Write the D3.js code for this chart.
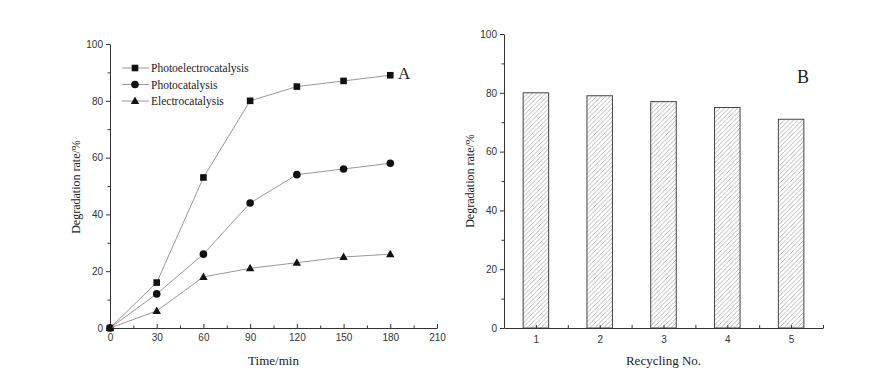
<!DOCTYPE html>
<html>
<head>
<meta charset="utf-8">
<script src="https://cdn.jsdelivr.net/npm/d3@7"></script>
<style>
  body { margin: 0; background: #fff; }
  svg { display: block; }
  .tick text { font-family: "Liberation Sans", Arial, sans-serif; font-size: 10px; fill: #333; }
  .tick line { stroke: #333; }
</style>
</head>
<body>
<div id="chart"></div>
<script>
// Panel A: degradation over time
const times = [0, 30, 60, 90, 120, 150, 180];
const photoelectro = [0, 16, 53, 80, 85, 87, 89];
const photo = [0, 12, 26, 44, 54, 56, 58];
const electro = [0, 6, 18, 21, 23, 25, 26];
const seriesNames = ["Photoelectrocatalysis", "Photocatalysis", "Electrocatalysis"];
const seriesMarks = ["square", "circle", "triangle"];

// Panel B: recycling runs
const cycles = [1, 2, 3, 4, 5];
const cycleRates = [80, 79, 77, 75, 71];

const serif = "'Liberation Serif', 'Times New Roman', Times, serif";

const svg = d3.select("#chart")
    .append("svg")
    .attr("width", 891)
    .attr("height", 379);

// hatch for the bars
svg.append("defs")
    .append("pattern")
    .attr("id", "hatch")
    .attr("patternUnits", "userSpaceOnUse")
    .attr("width", 4.5)
    .attr("height", 4.5)
    .append("path")
    .attr("d", "M-1,1 l2,-2 M0,4.5 l4.5,-4.5 M3.5,5.5 l2,-2")
    .attr("stroke", "#999")
    .attr("stroke-width", 0.7);

function drawMarker(g, type, x, y) {
    if (type === "square") {
        g.append("rect").attr("x", x - 3.3).attr("y", y - 3.3)
            .attr("width", 6.6).attr("height", 6.6).attr("fill", "#111");
    } else if (type === "circle") {
        g.append("circle").attr("cx", x).attr("cy", y).attr("r", 3.8).attr("fill", "#111");
    } else {
        g.append("path")
            .attr("d", `M${x},${y - 4.5} L${x + 4.2},${y + 3} L${x - 4.2},${y + 3} Z`)
            .attr("fill", "#111");
    }
}

function title(g, txt, x, y, size) {
    return g.append("text")
        .attr("x", x).attr("y", y)
        .attr("font-family", serif)
        .attr("font-size", size)
        .attr("fill", "#222")
        .text(txt);
}

// ---------- Panel A ----------
const xA = d3.scaleLinear().domain([0, 210]).range([110, 437]);
const yA = d3.scaleLinear().domain([0, 100]).range([328, 44]);

const gA = svg.append("g");

// minor ticks
gA.append("g").attr("transform", `translate(0,${yA(0)})`)
    .call(d3.axisBottom(xA).tickValues(d3.range(15, 210, 30)).tickFormat("").tickSizeInner(-2.5).tickSizeOuter(0))
    .call(g => g.select(".domain").remove());
gA.append("g").attr("transform", `translate(${xA(0)},0)`)
    .call(d3.axisLeft(yA).tickValues(d3.range(10, 100, 20)).tickFormat("").tickSizeInner(2.5).tickSizeOuter(0))
    .call(g => g.select(".domain").remove());

// major ticks
gA.append("g").attr("transform", `translate(0,${yA(0)})`)
    .call(d3.axisBottom(xA).tickValues(d3.range(0, 211, 30)).tickSizeInner(-4).tickSizeOuter(0).tickPadding(6))
    .call(g => g.select(".domain").attr("stroke", "#333"));
gA.append("g").attr("transform", `translate(${xA(0)},0)`)
    .call(d3.axisLeft(yA).tickValues(d3.range(0, 101, 20)).tickSizeInner(4).tickSizeOuter(0).tickPadding(3))
    .call(g => g.select(".domain").attr("stroke", "#333"));

const seriesA = [photoelectro, photo, electro];
const lineA = d3.line().x((d, i) => xA(times[i])).y(d => yA(d));

seriesA.forEach((vals, k) => {
    gA.append("path")
        .datum(vals)
        .attr("fill", "none")
        .attr("stroke", "#999")
        .attr("stroke-width", 1)
        .attr("d", lineA);
    vals.forEach((v, i) => drawMarker(gA, seriesMarks[k], xA(times[i]), yA(v)));
});

// legend
const legendY = [68, 84.5, 101];
seriesNames.forEach((name, k) => {
    gA.append("line")
        .attr("x1", 122).attr("x2", 149)
        .attr("y1", legendY[k]).attr("y2", legendY[k])
        .attr("stroke", "#999");
    drawMarker(gA, seriesMarks[k], 135, legendY[k]);
    title(gA, name, 151, legendY[k] + 4, 11.5);
});

title(gA, "A", 398, 79, 17);

title(gA, "Time/min", (xA(0) + xA(210)) / 2, 365, 13)
    .attr("text-anchor", "middle");

title(gA, "Degradation rate/%", -187, 80, 12)
    .attr("transform", "rotate(-90)")
    .attr("text-anchor", "middle");

// ---------- Panel B ----------
const xB = d3.scaleLinear().domain([0.5, 5.5]).range([504, 823]);
const yB = d3.scaleLinear().domain([0, 100]).range([328, 34]);
const barW = 0.4;

const gB = svg.append("g");

gB.selectAll("rect.bar")
    .data(cycleRates)
    .enter()
    .append("rect")
    .attr("class", "bar")
    .attr("x", (d, i) => xB(cycles[i] - barW / 2))
    .attr("y", d => yB(d))
    .attr("width", xB(barW) - xB(0))
    .attr("height", d => yB(0) - yB(d))
    .attr("fill", "url(#hatch)")
    .attr("stroke", "#444")
    .attr("stroke-width", 1);

gB.append("g").attr("transform", `translate(0,${yB(0)})`)
    .call(d3.axisBottom(xB).tickValues(d3.range(1.5, 5.6, 1)).tickFormat("").tickSizeInner(-3).tickSizeOuter(0))
    .call(g => g.select(".domain").remove());
gB.append("g").attr("transform", `translate(${xB(0.5)},0)`)
    .call(d3.axisLeft(yB).tickValues(d3.range(10, 100, 20)).tickFormat("").tickSizeInner(2.5).tickSizeOuter(0))
    .call(g => g.select(".domain").remove());

gB.append("g").attr("transform", `translate(0,${yB(0)})`)
    .call(d3.axisBottom(xB).tickValues(cycles).tickFormat(d3.format("d")).tickSizeInner(-3).tickSizeOuter(0).tickPadding(8))
    .call(g => g.select(".domain").attr("stroke", "#333"));
gB.append("g").attr("transform", `translate(${xB(0.5)},0)`)
    .call(d3.axisLeft(yB).tickValues(d3.range(0, 101, 20)).tickSizeInner(4).tickSizeOuter(0).tickPadding(3))
    .call(g => g.select(".domain").attr("stroke", "#333"));

title(gB, "B", 797, 83, 18);

title(gB, "Recycling No.", (xB(0.5) + xB(5.5)) / 2, 365, 13)
    .attr("text-anchor", "middle");

title(gB, "Degradation rate/%", -181, 474, 12)
    .attr("transform", "rotate(-90)")
    .attr("text-anchor", "middle");
</script>
</body>
</html>
